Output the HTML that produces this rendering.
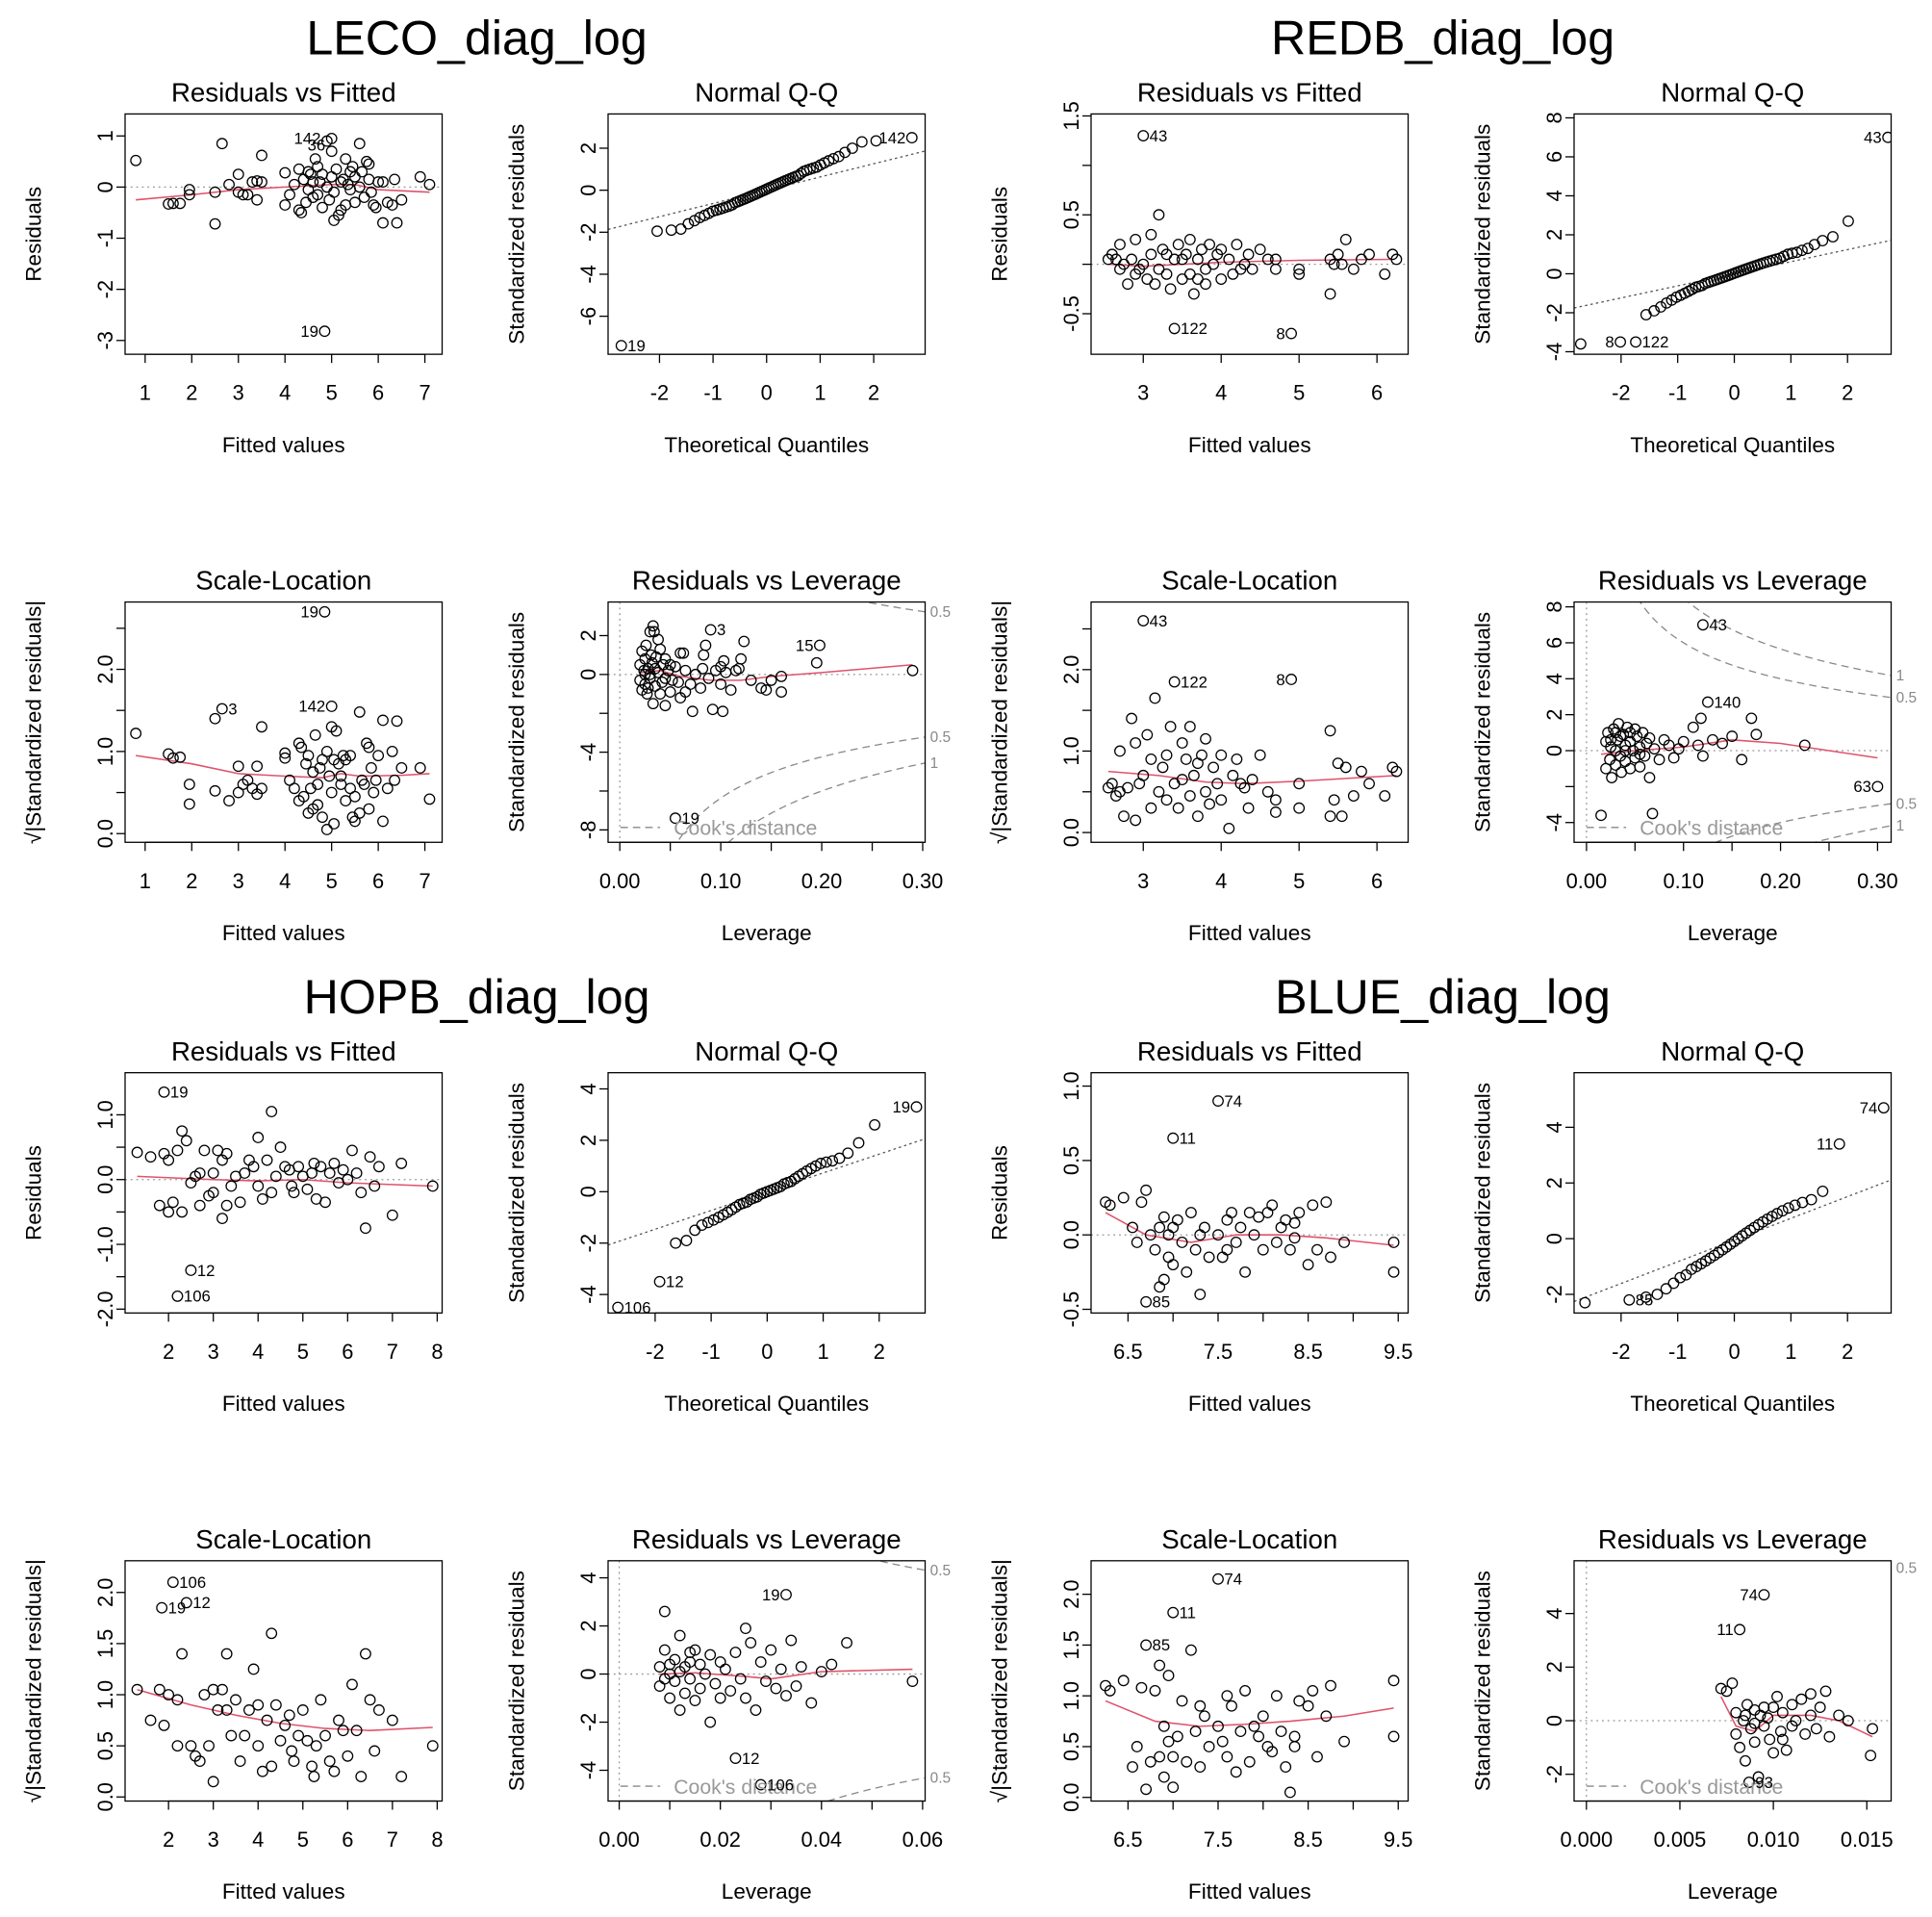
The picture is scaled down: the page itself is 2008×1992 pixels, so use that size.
<!DOCTYPE html>
<html><head><meta charset="utf-8"><title>diag_log</title>
<style>html,body{margin:0;padding:0;background:#fff}svg{display:block}text{font-family:"Liberation Sans",Arial,sans-serif}</style>
</head><body>
<svg id="chart" xmlns="http://www.w3.org/2000/svg" width="2008" height="1992" viewBox="0 0 1560 1547.6" preserveAspectRatio="none"></svg>
<script>
// ---------------- DATA ----------------
const blockTitles = ["LECO_diag_log","REDB_diag_log","HOPB_diag_log","BLUE_diag_log"];

const lecoRvfPts = [[0.8,0.52],[1.5,-0.33],[1.6,-0.32],[1.75,-0.32],[1.95,-0.05],[1.95,-0.15],[2.5,-0.72],[2.5,-0.1],[2.65,0.85],[2.8,0.05],[3.0,0.25],[3.0,-0.1],[3.1,-0.15],[3.2,-0.15],[3.3,0.1],[3.4,0.12],[3.4,-0.25],[3.5,0.62],[3.5,0.1],[4.0,0.28],[4.0,-0.35],[4.1,-0.15],[4.2,0.05],[4.3,0.35],[4.3,-0.45],[4.35,-0.5],[4.4,0.15],[4.5,0.3],[4.5,-0.05],[4.6,0.1],[4.6,-0.2],[4.65,0.55],[4.7,0.4],[4.7,-0.15],[4.8,0.25],[4.8,-0.4],[4.85,-2.82],[4.9,0.0],[4.9,0.9],[5.0,0.95],[5.0,0.7],[5.0,0.2],[5.05,-0.1],[5.05,-0.65],[5.1,0.35],[5.15,-0.55],[5.2,0.1],[5.2,-0.45],[5.3,0.55],[5.3,-0.35],[5.4,0.3],[5.4,-0.05],[5.5,-0.3],[5.5,0.2],[5.6,0.85],[5.6,0.0],[5.7,-0.2],[5.75,0.5],[5.8,0.45],[5.8,0.15],[5.85,-0.1],[5.9,-0.35],[5.95,-0.4],[6.0,0.1],[6.1,-0.7],[6.1,0.1],[6.2,-0.3],[6.3,-0.35],[6.35,0.15],[6.4,-0.7],[6.5,-0.25],[6.9,0.2],[7.1,0.05],[4.55,0.25],[4.75,0.1],[5.25,0.15],[5.35,0.05],[5.65,0.3],[4.45,-0.3],[4.95,-0.25],[5.45,0.4]];
const lecoRvfRed = [[0.8,-0.25],[2,-0.15],[3,-0.05],[4,0.0],[5,0.05],[5.5,0.05],[6,-0.05],[7.1,-0.1]];
const lecoRvfLab = [[4.9,0.95,"142","l"],[5.0,0.82,"36","l"],[4.85,-2.82,"19","l"]];
const lecoQqRes = [-7.4,-1.95,-1.9,-1.85,-1.6,-1.45,-1.3,-1.2,-1.1,-1.0,-0.95,-0.9,-0.85,-0.8,-0.75,-0.7,-0.6,-0.55,-0.5,-0.45,-0.4,-0.35,-0.3,-0.25,-0.2,-0.15,-0.1,-0.05,0.0,0.05,0.1,0.15,0.2,0.25,0.3,0.35,0.4,0.45,0.5,0.55,0.6,0.65,0.7,0.8,0.9,0.95,1.0,1.05,1.1,1.2,1.3,1.4,1.5,1.6,1.8,2.0,2.3,2.35,2.5];
const lecoQqLab = [[0,"19","r"],[58,"142","l"]];
const lecoSlPts = [[0.8,1.22],[1.5,0.97],[1.6,0.92],[1.75,0.93],[1.95,0.6],[1.95,0.36],[2.5,1.4],[2.5,0.52],[2.65,1.52],[2.8,0.4],[3.0,0.82],[3.0,0.5],[3.1,0.6],[3.2,0.65],[3.3,0.55],[3.4,0.48],[3.4,0.82],[3.5,1.3],[3.5,0.55],[4.0,0.98],[4.0,0.92],[4.1,0.65],[4.2,0.55],[4.3,1.1],[4.3,0.4],[4.35,1.05],[4.4,0.45],[4.5,0.95],[4.5,0.25],[4.6,0.3],[4.6,0.75],[4.65,1.2],[4.7,0.6],[4.7,0.35],[4.8,0.2],[4.8,0.9],[4.85,2.7],[4.9,0.05],[4.9,1.0],[5.0,1.55],[5.0,1.3],[5.0,0.5],[5.05,0.12],[5.05,0.9],[5.1,1.25],[5.15,0.85],[5.2,0.6],[5.2,0.7],[5.3,0.4],[5.3,0.9],[5.4,0.95],[5.4,0.55],[5.5,0.15],[5.5,0.45],[5.6,1.48],[5.6,0.25],[5.7,0.6],[5.75,1.1],[5.8,1.05],[5.8,0.3],[5.85,0.8],[5.9,0.5],[5.95,0.65],[6.0,0.95],[6.1,1.38],[6.1,0.15],[6.2,0.55],[6.3,1.0],[6.35,0.65],[6.4,1.37],[6.5,0.8],[6.9,0.8],[7.1,0.42],[4.55,0.55],[4.75,0.8],[5.25,0.95],[5.45,0.2],[5.65,0.65],[4.45,0.85],[4.95,0.7]];
const lecoSlRed = [[0.8,0.95],[2,0.85],[3,0.73],[4,0.7],[4.8,0.68],[5.2,0.73],[5.6,0.7],[6.5,0.71],[7.1,0.73]];
const lecoSlLab = [[4.85,2.7,"19","l"],[2.65,1.52,"3","r"],[5.0,1.55,"142","l"]];
const lecoRvlPts = [[0.02,0.5],[0.02,-0.3],[0.022,1.2],[0.022,-0.8],[0.024,0.2],[0.025,0.8],[0.025,-0.5],[0.026,1.5],[0.027,-1.0],[0.028,0.3],[0.03,2.2],[0.03,-0.2],[0.031,1.0],[0.032,0.6],[0.033,2.5],[0.033,-1.5],[0.034,2.2],[0.035,-0.6],[0.036,0.9],[0.038,1.8],[0.038,0.1],[0.04,-1.0],[0.04,1.3],[0.042,-0.4],[0.043,0.5],[0.045,-1.6],[0.045,0.8],[0.048,0.2],[0.05,-0.9],[0.05,0.5],[0.052,-0.3],[0.055,-7.4],[0.055,0.4],[0.058,-0.4],[0.06,-1.2],[0.06,1.1],[0.063,1.1],[0.065,-0.9],[0.065,0.2],[0.07,-0.5],[0.072,-1.9],[0.075,0.0],[0.08,-0.7],[0.082,0.3],[0.083,1.0],[0.085,1.5],[0.088,-0.2],[0.09,2.3],[0.092,-1.8],[0.095,0.2],[0.1,0.4],[0.1,-0.5],[0.102,-1.9],[0.103,0.7],[0.105,0.1],[0.11,-0.8],[0.115,0.2],[0.118,0.3],[0.12,0.8],[0.123,1.7],[0.13,-0.3],[0.14,-0.7],[0.145,-0.8],[0.15,-0.3],[0.16,-0.9],[0.16,-0.1],[0.195,0.6],[0.198,1.5],[0.29,0.2],[0.025,0.0],[0.028,-0.7],[0.035,0.3],[0.045,-0.2],[0.03,0.0]];
const lecoRvlRed = [[0.02,0.1],[0.04,0.2],[0.06,-0.1],[0.09,-0.3],[0.12,-0.3],[0.15,-0.1],[0.2,0.1],[0.29,0.5]];
const lecoRvlLab = [[0.09,2.3,"3","r"],[0.198,1.5,"15","l"],[0.055,-7.4,"19","r"]];

const redbRvfPts = [[2.55,0.05],[2.6,0.1],[2.7,0.2],[2.7,-0.05],[2.75,0.0],[2.8,-0.2],[2.85,0.05],[2.9,0.25],[2.9,-0.1],[3.0,1.3],[3.0,0.0],[3.05,-0.15],[3.1,0.3],[3.1,0.1],[3.15,-0.2],[3.2,0.5],[3.2,-0.05],[3.25,0.15],[3.3,-0.1],[3.35,-0.25],[3.4,-0.65],[3.4,0.05],[3.45,0.2],[3.5,-0.15],[3.55,0.1],[3.6,0.25],[3.6,-0.1],[3.65,-0.3],[3.7,0.05],[3.75,0.15],[3.8,-0.05],[3.8,-0.2],[3.85,0.2],[3.9,0.0],[3.95,0.1],[4.0,-0.15],[4.0,0.15],[4.1,0.05],[4.15,-0.1],[4.2,0.2],[4.3,0.0],[4.35,0.1],[4.4,-0.05],[4.5,0.15],[4.6,0.05],[4.7,-0.05],[4.7,0.05],[4.9,-0.7],[5.0,-0.05],[5.0,-0.1],[5.4,0.05],[5.4,-0.3],[5.45,0.0],[5.5,0.1],[5.6,0.25],[5.7,-0.05],[5.8,0.05],[5.9,0.1],[6.1,-0.1],[6.2,0.1],[6.25,0.05],[2.65,0.05],[2.95,-0.05],[3.3,0.1],[3.5,0.05],[3.7,-0.15],[4.25,-0.05],[5.55,0.0]];
const redbRvfRed = [[2.55,0.0],[3,-0.02],[3.5,0.0],[4,0.02],[5,0.04],[6.2,0.05]];
const redbRvfLab = [[3.0,1.3,"43","r"],[3.4,-0.65,"122","r"],[4.9,-0.7,"8","l"]];
const redbQqRes = [-3.6,-3.5,-3.5,-2.1,-1.9,-1.7,-1.5,-1.35,-1.2,-1.1,-1.0,-0.9,-0.8,-0.7,-0.65,-0.6,-0.5,-0.45,-0.4,-0.35,-0.3,-0.25,-0.2,-0.15,-0.1,-0.05,0,0.05,0.1,0.15,0.2,0.25,0.3,0.35,0.4,0.45,0.5,0.55,0.6,0.65,0.7,0.75,0.8,0.9,1.0,1.05,1.1,1.2,1.3,1.5,1.7,1.9,2.7,7.0];
const redbQqLab = [[53,"43","l"],[1,"8","l"],[2,"122","r"]];
const redbSlPts = [[2.55,0.55],[2.6,0.6],[2.7,0.5],[2.7,1.0],[2.75,0.2],[2.8,0.55],[2.85,1.4],[2.9,0.15],[2.9,1.1],[3.0,2.6],[3.0,0.7],[3.05,1.2],[3.1,0.3],[3.1,0.9],[3.15,1.65],[3.2,0.5],[3.25,0.8],[3.3,0.4],[3.35,1.3],[3.4,1.85],[3.4,0.6],[3.45,0.3],[3.5,1.1],[3.55,0.9],[3.6,0.45],[3.6,1.3],[3.65,0.7],[3.7,0.2],[3.75,0.95],[3.8,0.5],[3.8,1.15],[3.85,0.35],[3.9,0.8],[3.95,0.6],[4.0,0.95],[4.0,0.4],[4.1,0.05],[4.15,0.7],[4.2,0.9],[4.3,0.55],[4.35,0.3],[4.4,0.65],[4.5,0.95],[4.6,0.5],[4.7,0.4],[4.7,0.25],[4.9,1.88],[5.0,0.6],[5.0,0.3],[5.4,1.25],[5.4,0.2],[5.45,0.4],[5.5,0.85],[5.6,0.8],[5.7,0.45],[5.8,0.75],[5.9,0.6],[6.1,0.45],[6.2,0.8],[6.25,0.75],[2.65,0.45],[2.95,0.6],[3.3,0.95],[3.5,0.65],[3.7,0.85],[4.25,0.6],[5.55,0.2]];
const redbSlRed = [[2.55,0.75],[3.2,0.7],[3.8,0.62],[4.3,0.6],[5,0.63],[6.25,0.7]];
const redbSlLab = [[3.0,2.6,"43","r"],[3.4,1.85,"122","r"],[4.9,1.88,"8","l"]];
const redbRvlPts = [[0.015,-3.6],[0.02,0.5],[0.02,-1.0],[0.022,1.0],[0.024,-0.5],[0.025,0.2],[0.026,-1.5],[0.028,1.2],[0.03,0.0],[0.03,-0.8],[0.032,0.6],[0.033,1.5],[0.035,-0.3],[0.036,-1.2],[0.038,0.9],[0.04,0.3],[0.04,-0.6],[0.042,1.3],[0.045,-1.0],[0.045,0.5],[0.048,0.0],[0.05,1.2],[0.05,-0.4],[0.052,0.8],[0.055,-0.9],[0.055,0.2],[0.058,1.0],[0.06,-0.3],[0.062,0.4],[0.065,-1.5],[0.065,0.7],[0.068,-3.5],[0.07,0.1],[0.075,-0.5],[0.08,0.6],[0.085,0.3],[0.09,-0.4],[0.095,0.1],[0.1,0.5],[0.11,1.3],[0.115,0.3],[0.118,1.8],[0.12,-0.3],[0.125,2.7],[0.13,0.6],[0.14,0.4],[0.15,0.8],[0.16,-0.5],[0.17,1.8],[0.175,0.9],[0.225,0.3],[0.3,-2.0],[0.12,7.0],[0.025,0.6],[0.035,0.8],[0.045,1.0],[0.055,-0.2],[0.03,1.0],[0.04,0.0]];
const redbRvlRed = [[0.015,-0.2],[0.05,0.0],[0.1,0.2],[0.15,0.6],[0.2,0.4],[0.3,-0.4]];
const redbRvlLab = [[0.12,7.0,"43","r"],[0.125,2.7,"140","r"],[0.3,-2.0,"63","l"]];

const hopbRvfPts = [[1.3,0.42],[1.6,0.35],[1.8,-0.4],[1.9,0.4],[1.9,1.35],[2.0,0.3],[2.0,-0.5],[2.1,-0.35],[2.2,0.45],[2.2,-1.8],[2.3,-0.5],[2.3,0.75],[2.4,0.6],[2.5,-1.4],[2.5,-0.05],[2.6,0.05],[2.7,0.1],[2.7,-0.4],[2.8,0.45],[2.9,-0.25],[3.0,0.1],[3.0,-0.2],[3.1,0.45],[3.2,-0.6],[3.2,0.3],[3.3,0.4],[3.3,-0.4],[3.4,-0.1],[3.5,0.05],[3.6,-0.35],[3.8,0.3],[3.9,0.2],[4.0,-0.1],[4.0,0.65],[4.1,-0.3],[4.2,0.3],[4.3,1.05],[4.3,-0.2],[4.4,0.05],[4.5,0.5],[4.6,0.2],[4.7,0.15],[4.8,-0.2],[4.9,0.2],[5.0,0.05],[5.1,-0.15],[5.2,0.1],[5.3,-0.3],[5.4,0.2],[5.5,-0.35],[5.6,0.1],[5.7,0.25],[5.8,-0.05],[6.0,0.0],[6.1,0.45],[6.2,0.1],[6.3,-0.2],[6.4,-0.75],[6.5,0.35],[6.6,-0.1],[6.7,0.2],[7.0,-0.55],[7.2,0.25],[7.9,-0.1],[5.9,0.15],[5.25,0.25],[4.75,-0.1],[3.7,0.1]];
const hopbRvfRed = [[1.3,0.05],[3,0.0],[4,-0.02],[5,0.0],[6,-0.05],[7.9,-0.1]];
const hopbRvfLab = [[1.9,1.35,"19","r"],[2.5,-1.4,"12","r"],[2.2,-1.8,"106","r"]];
const hopbQqRes = [-4.5,-3.5,-2.0,-1.9,-1.5,-1.3,-1.2,-1.1,-1.0,-0.9,-0.8,-0.7,-0.6,-0.5,-0.45,-0.4,-0.3,-0.25,-0.2,-0.1,-0.05,0,0.05,0.1,0.15,0.2,0.3,0.35,0.4,0.5,0.6,0.7,0.8,0.9,1.0,1.1,1.15,1.2,1.3,1.5,1.9,2.6,3.3];
const hopbQqLab = [[0,"106","r"],[1,"12","r"],[42,"19","l"]];
const hopbSlPts = [[1.3,1.05],[1.6,0.75],[1.8,1.05],[1.85,1.85],[1.9,0.7],[2.0,1.0],[2.1,2.1],[2.2,0.95],[2.3,1.4],[2.4,1.9],[2.5,0.5],[2.6,0.4],[2.7,0.35],[2.8,1.0],[2.9,0.5],[3.0,0.15],[3.0,1.05],[3.1,0.85],[3.2,1.05],[3.3,1.4],[3.3,0.85],[3.4,0.6],[3.5,0.95],[3.6,0.35],[3.8,0.85],[3.9,1.25],[4.0,0.5],[4.0,0.9],[4.1,0.25],[4.2,0.75],[4.3,1.6],[4.3,0.3],[4.4,0.9],[4.5,0.55],[4.6,0.7],[4.7,0.8],[4.8,0.35],[4.9,0.6],[5.0,0.85],[5.1,0.55],[5.2,0.3],[5.3,0.5],[5.4,0.95],[5.5,0.6],[5.6,0.35],[5.7,0.25],[5.8,0.75],[6.0,0.4],[6.1,1.1],[6.2,0.65],[6.3,0.2],[6.4,1.4],[6.5,0.95],[6.6,0.45],[6.7,0.85],[7.0,0.75],[7.2,0.2],[7.9,0.5],[5.9,0.65],[5.25,0.2],[4.75,0.45],[3.7,0.6],[2.2,0.5]];
const hopbSlRed = [[1.3,1.05],[2.5,0.9],[3.5,0.8],[4.5,0.72],[5.5,0.67],[6.5,0.65],[7.9,0.68]];
const hopbSlLab = [[2.1,2.1,"106","r"],[1.85,1.85,"19","r"],[2.4,1.9,"12","r"]];
const hopbRvlPts = [[0.008,0.3],[0.008,-0.5],[0.009,2.6],[0.009,1.0],[0.01,0.0],[0.01,-1.0],[0.011,0.6],[0.011,-0.3],[0.012,1.6],[0.012,-1.5],[0.013,0.3],[0.013,-0.8],[0.014,0.9],[0.014,-0.2],[0.015,1.0],[0.015,-1.1],[0.016,0.4],[0.016,-0.6],[0.017,0.0],[0.018,-2.0],[0.018,0.8],[0.019,-0.4],[0.02,0.5],[0.02,-1.0],[0.021,0.2],[0.022,-0.7],[0.023,-3.5],[0.023,0.9],[0.024,-0.2],[0.025,1.9],[0.025,-1.0],[0.026,1.3],[0.027,-1.5],[0.028,-4.6],[0.028,0.5],[0.029,-0.3],[0.03,1.0],[0.031,-0.6],[0.032,0.2],[0.033,3.3],[0.033,-0.9],[0.034,1.4],[0.035,-0.5],[0.036,0.3],[0.038,-1.2],[0.04,0.1],[0.042,0.4],[0.045,1.3],[0.058,-0.3],[0.01,0.4],[0.012,0.1],[0.014,0.5],[0.009,-0.2]];
const hopbRvlRed = [[0.008,0.0],[0.015,0.05],[0.025,-0.1],[0.03,-0.2],[0.04,0.1],[0.058,0.2]];
const hopbRvlLab = [[0.033,3.3,"19","l"],[0.023,-3.5,"12","r"],[0.028,-4.6,"106","r"]];

const blueRvfPts = [[6.25,0.22],[6.3,0.2],[6.45,0.25],[6.55,0.05],[6.6,-0.05],[6.65,0.22],[6.7,0.3],[6.7,-0.45],[6.75,0.0],[6.8,-0.1],[6.85,-0.35],[6.85,0.05],[6.9,0.12],[6.9,-0.3],[6.95,0.0],[7.0,0.65],[7.0,-0.2],[7.05,0.1],[7.1,-0.05],[7.15,-0.25],[7.2,0.15],[7.25,-0.1],[7.3,-0.4],[7.35,0.05],[7.4,-0.15],[7.5,0.9],[7.5,0.0],[7.55,-0.15],[7.6,0.1],[7.65,0.15],[7.7,-0.05],[7.75,0.05],[7.8,-0.25],[7.85,0.15],[7.9,0.0],[7.95,0.12],[8.0,-0.1],[8.05,0.15],[8.1,0.2],[8.15,-0.05],[8.2,0.05],[8.25,0.1],[8.3,-0.1],[8.35,0.08],[8.4,0.15],[8.5,-0.2],[8.55,0.2],[8.6,-0.1],[8.7,0.22],[8.75,-0.15],[8.9,-0.05],[9.45,-0.05],[9.45,-0.25],[7.0,0.05],[7.3,0.0],[7.6,-0.1],[8.35,-0.02],[6.95,-0.15]];
const blueRvfRed = [[6.25,0.15],[6.7,0.0],[7.2,-0.05],[7.7,0.0],[8.2,0.0],[8.7,-0.02],[9.45,-0.07]];
const blueRvfLab = [[7.5,0.9,"74","r"],[7.0,0.65,"11","r"],[6.7,-0.45,"85","r"]];
const blueQqRes = [-2.3,-2.2,-2.1,-2.0,-1.8,-1.6,-1.4,-1.3,-1.1,-1.0,-0.9,-0.8,-0.7,-0.6,-0.5,-0.4,-0.3,-0.2,-0.1,0,0.1,0.2,0.3,0.4,0.5,0.6,0.7,0.8,0.9,1.0,1.1,1.2,1.3,1.4,1.7,3.4,4.7];
const blueQqLab = [[36,"74","l"],[35,"11","l"],[1,"85","r"]];
const blueSlPts = [[6.25,1.1],[6.3,1.05],[6.45,1.15],[6.55,0.3],[6.6,0.5],[6.65,1.08],[6.7,1.5],[6.7,0.08],[6.75,0.35],[6.8,1.05],[6.85,1.3],[6.85,0.4],[6.9,0.7],[6.9,0.2],[6.95,1.2],[7.0,1.82],[7.0,0.1],[7.05,0.6],[7.1,0.95],[7.15,0.35],[7.2,1.45],[7.25,0.65],[7.3,0.3],[7.35,0.8],[7.4,0.5],[7.5,2.15],[7.5,0.7],[7.55,0.55],[7.6,0.4],[7.65,0.9],[7.7,0.25],[7.75,0.65],[7.8,1.05],[7.85,0.35],[7.9,0.7],[7.95,0.6],[8.0,0.8],[8.05,0.5],[8.1,0.45],[8.15,1.0],[8.2,0.65],[8.25,0.3],[8.3,0.05],[8.35,0.6],[8.4,0.95],[8.5,0.9],[8.55,1.05],[8.6,0.4],[8.7,0.8],[8.75,1.1],[8.9,0.55],[9.45,0.6],[9.45,1.15],[7.0,0.4],[7.3,0.9],[7.6,1.0],[8.35,0.5],[6.95,0.55]];
const blueSlRed = [[6.25,0.95],[6.8,0.75],[7.3,0.7],[7.8,0.72],[8.3,0.75],[8.9,0.8],[9.45,0.88]];
const blueSlLab = [[7.5,2.15,"74","r"],[7.0,1.82,"11","r"],[6.7,1.5,"85","r"]];
const blueRvlPts = [[0.0072,1.2],[0.0075,1.1],[0.0078,1.4],[0.008,0.3],[0.008,-0.5],[0.0082,3.4],[0.0082,-1.0],[0.0084,0.0],[0.0085,-1.5],[0.0086,0.6],[0.0087,-2.3],[0.0088,-0.3],[0.009,0.4],[0.009,-0.8],[0.0092,-2.1],[0.0093,0.2],[0.0095,4.7],[0.0095,-0.2],[0.0097,0.1],[0.0098,-0.7],[0.01,0.5],[0.01,-1.2],[0.0102,0.9],[0.0104,-0.4],[0.0105,0.3],[0.0107,-1.1],[0.011,0.6],[0.011,-0.2],[0.0112,0.0],[0.0115,0.8],[0.0117,-0.5],[0.012,1.0],[0.012,0.2],[0.0123,-0.3],[0.0125,0.5],[0.0128,1.1],[0.013,-0.6],[0.0135,0.2],[0.014,0.0],[0.0153,-0.3],[0.0152,-1.3],[0.0085,0.2],[0.009,-0.1],[0.0095,0.5],[0.0105,-0.7]];
const blueRvlRed = [[0.0072,0.9],[0.008,-0.2],[0.009,-0.4],[0.01,0.2],[0.012,0.2],[0.0135,0.0],[0.0153,-0.6]];
const blueRvlLab = [[0.0095,4.7,"74","l"],[0.0082,3.4,"11","l"],[0.0087,-2.3,"93","r"]];

// ---------------- DRAWING ----------------
const NS = "http://www.w3.org/2000/svg";
const svg = document.getElementById("chart");
function el(tag, attrs, parent, txt){
  const e = document.createElementNS(NS, tag);
  for (const k in attrs) e.setAttribute(k, attrs[k]);
  if (txt !== undefined) e.textContent = txt;
  (parent || svg).appendChild(e);
  return e;
}
function qnorm(p){
  const a=[-39.6968302866538,220.946098424521,-275.928510446969,138.357751867269,-30.6647980661472,2.50662827745924];
  const b=[-54.4760987982241,161.585836858041,-155.698979859887,66.8013118877197,-13.2806815528857];
  const c=[-0.00778489400243029,-0.322396458041136,-2.40075827716184,-2.54973253934373,4.37466414146497,2.93816398269878];
  const d=[0.00778469570904146,0.32246712907004,2.445134137143,3.75440866190742];
  let q,r;
  if(p<0.02425){q=Math.sqrt(-2*Math.log(p));return (((((c[0]*q+c[1])*q+c[2])*q+c[3])*q+c[4])*q+c[5])/((((d[0]*q+d[1])*q+d[2])*q+d[3])*q+1);}
  if(p>1-0.02425){q=Math.sqrt(-2*Math.log(1-p));return -(((((c[0]*q+c[1])*q+c[2])*q+c[3])*q+c[4])*q+c[5])/((((d[0]*q+d[1])*q+d[2])*q+d[3])*q+1);}
  q=p-0.5;r=q*q;
  return (((((a[0]*r+a[1])*r+a[2])*r+a[3])*r+a[4])*r+a[5])*q/(((((b[0]*r+b[1])*r+b[2])*r+b[3])*r+b[4])*r+1);
}
const BW = 256, BH = 194;
const FS_TITLE = 21.5, FS_TICK = 17, FS_AXIS = 17.5, FS_LAB = 13;
let clipId = 0;
function panel(bx, by, cfg, name){
  const g = el("g", {}, svg);
  
  
  const sx = v => bx + (v - cfg.xlim[0]) / (cfg.xlim[1] - cfg.xlim[0]) * BW;
  const sy = v => by + BH - (v - cfg.ylim[0]) / (cfg.ylim[1] - cfg.ylim[0]) * BH;
  const cid = "clip" + (clipId++);
  const cp = el("clipPath", {id: cid}, g);
  el("rect", {x: bx, y: by, width: BW, height: BH}, cp);
  const inner = el("g", {"clip-path": "url(#" + cid + ")"}, g);
  const t = el("text", {x: bx + BW/2, y: by - 10, "font-size": FS_TITLE, "text-anchor": "middle"}, g, cfg.title);
  
  
  cfg.xticks.forEach((v, i) => {
    const x = sx(v);
    el("line", {x1: x, x2: x, y1: by + BH, y2: by + BH + 7, stroke: "#000", "stroke-width": 1}, g);
    if (cfg.xlabels[i]) {
      const tl = el("text", {x: x, y: by + BH + 37, "font-size": FS_TICK, "text-anchor": "middle"}, g, cfg.xlabels[i]);
      
      
    }
  });
  el("line", {x1: sx(cfg.xticks[0]), x2: sx(cfg.xticks[cfg.xticks.length-1]), y1: by+BH, y2: by+BH, stroke: "#000"}, g);
  cfg.yticks.forEach((v, i) => {
    const y = sy(v);
    el("line", {x1: bx - 7, x2: bx, y1: y, y2: y, stroke: "#000", "stroke-width": 1}, g);
    if (cfg.ylabels[i]) {
      const tl = el("text", {x: 0, y: 0, "font-size": FS_TICK, "text-anchor": "middle", transform: "translate(" + (bx - 10) + "," + y + ") rotate(-90)"}, g, cfg.ylabels[i]);
      
      
    }
  });
  const xl = el("text", {x: bx + BW/2, y: by + BH + 79, "font-size": FS_AXIS, "text-anchor": "middle"}, g, cfg.xlab);
  
  
  const yl = el("text", {x: 0, y: 0, "font-size": FS_AXIS, "text-anchor": "middle", transform: "translate(" + (bx - 68) + "," + (by + BH/2) + ") rotate(-90)"}, g, cfg.ylab);
  
  
  if (cfg.hline !== undefined) el("line", {x1: bx, x2: bx + BW, y1: sy(cfg.hline), y2: sy(cfg.hline), stroke: "#999", "stroke-dasharray": "1.5,3", "stroke-width": 1}, inner);
  if (cfg.vline !== undefined) el("line", {x1: sx(cfg.vline), x2: sx(cfg.vline), y1: by, y2: by + BH, stroke: "#999", "stroke-dasharray": "1.5,3", "stroke-width": 1}, inner);
  if (cfg.qqline) el("line", {x1: bx, x2: bx + BW, y1: sy(cfg.qqline[0] + cfg.qqline[1]*cfg.xlim[0]), y2: sy(cfg.qqline[0] + cfg.qqline[1]*cfg.xlim[1]), stroke: "#555", "stroke-dasharray": "2,2.5", "stroke-width": 1}, inner);
  if (cfg.cookP) {
    [0.5, 1].forEach(c => {
      [1, -1].forEach(sgn => {
        let d = "";
        for (let k = 1; k <= 120; k++) {
          const h = cfg.xlim[1] * k / 120;
          const v = sgn * Math.sqrt(c * cfg.cookP * (1 - h) / h);
          d += (k === 1 ? "M" : "L") + sx(h).toFixed(2) + "," + Math.max(by - 50, Math.min(by + BH + 50, sy(v))).toFixed(2);
        }
        const cl = el("path", {d: d, fill: "none", stroke: "#888", "stroke-dasharray": "6,4", "stroke-width": 1}, inner);
        
        
        const hv = cfg.xlim[1];
        const ve = sgn * Math.sqrt(c * cfg.cookP * (1 - hv) / hv);
        if (ve < cfg.ylim[1] + 0.3 && ve > cfg.ylim[0]) {
          el("text", {x: bx + BW + 4, y: Math.max(by + 6, sy(ve)) + 4, "font-size": 12, fill: "#888"}, g, String(c));
        }
      });
    });
    const ly = by + BH - 12;
    el("line", {x1: bx + 10, x2: bx + 42, y1: ly, y2: ly, stroke: "#888", "stroke-dasharray": "6,4"}, g);
    const lt = el("text", {x: bx + 53, y: ly + 6, "font-size": 16.5, fill: "#999"}, g, "Cook's distance");
    
    
  }
  if (cfg.red) {
    const rl = el("polyline", {points: cfg.red.map(p => sx(p[0]).toFixed(2) + "," + sy(p[1]).toFixed(2)).join(" "), fill: "none", stroke: "#df536b", "stroke-width": 1.2}, inner);
    
    
  }
  cfg.pts.forEach(p => {
    const c = el("circle", {cx: sx(p[0]).toFixed(2), cy: sy(p[1]).toFixed(2), r: 4.1, fill: "none", stroke: "#000", "stroke-width": 1}, inner);
    
    
  });
  (cfg.labs || []).forEach(l => {
    const x = sx(l[0]), y = sy(l[1]);
    el("text", {x: l[3] === "r" ? x + 5 : x - 5, y: y + 4.5, "font-size": FS_LAB, "text-anchor": l[3] === "r" ? "start" : "end"}, g, l[2]);
  });
  el("rect", {x: bx, y: by, width: BW, height: BH, fill: "none", stroke: "#000", "stroke-width": 1}, g);
}
// QQ: the listed residuals are a subsample of a larger sample of size nTotal,
// so theoretical quantiles are spread over the full sample's plotting positions.
function qqPts(res, nTotal){
  const n = res.length;
  return res.map((v, i) => [qnorm((0.5 + i * (nTotal - 1) / (n - 1)) / nTotal), v]);
}
function qqLabs(res, nTotal, labs){ const pts = qqPts(res, nTotal); return labs.map(l => [pts[l[0]][0], pts[l[0]][1], l[1], l[2]]); }
function seq(a, b, s){ const r = []; for (let v = a; v <= b + 1e-9; v += s) r.push(+v.toFixed(6)); return r; }

const offs = [[0,0],[780,0],[0,774],[780,774]];
offs.forEach((o, i) => {
  const t = el("text", {x: o[0] + 385, y: o[1] + 44, "font-size": 39, "text-anchor": "middle"}, svg, blockTitles[i]);
  
  
});
const P = [[101,92],[491,92],[101,486],[491,486]];
const ylabRes = "Residuals", ylabStd = "Standardized residuals", ylabSl = "\u221A|Standardized residuals|";
function blockPanels(o, key, c){
  panel(o[0]+P[0][0], o[1]+P[0][1], c.rvf, key + "-residuals-vs-fitted");
  panel(o[0]+P[1][0], o[1]+P[1][1], c.qq, key + "-normal-qq");
  panel(o[0]+P[2][0], o[1]+P[2][1], c.sl, key + "-scale-location");
  panel(o[0]+P[3][0], o[1]+P[3][1], c.rvl, key + "-residuals-vs-leverage");
}
blockPanels(offs[0], "leco", {
  rvf: {title:"Residuals vs Fitted", xlab:"Fitted values", ylab:ylabRes, xlim:[0.57,7.37], ylim:[-3.27,1.43], xticks:[1,2,3,4,5,6,7], xlabels:["1","2","3","4","5","6","7"], yticks:[-3,-2,-1,0,1], ylabels:["-3","-2","-1","0","1"], pts:lecoRvfPts, red:lecoRvfRed, labs:lecoRvfLab, hline:0},
  qq: {title:"Normal Q-Q", xlab:"Theoretical Quantiles", ylab:ylabStd, xlim:[-2.96,2.96], ylim:[-7.81,3.63], xticks:[-2,-1,0,1,2], xlabels:["-2","-1","0","1","2"], yticks:[-6,-4,-2,0,2], ylabels:["-6","-4","-2","0","2"], pts:qqPts(lecoQqRes,150), labs:qqLabs(lecoQqRes,150,lecoQqLab), qqline:[0,0.63]},
  sl: {title:"Scale-Location", xlab:"Fitted values", ylab:ylabSl, xlim:[0.57,7.37], ylim:[-0.106,2.82], xticks:[1,2,3,4,5,6,7], xlabels:["1","2","3","4","5","6","7"], yticks:[0,0.5,1,1.5,2,2.5], ylabels:["0.0","","1.0","","2.0",""], pts:lecoSlPts, red:lecoSlRed, labs:lecoSlLab},
  rvl: {title:"Residuals vs Leverage", xlab:"Leverage", ylab:ylabStd, xlim:[-0.0116,0.3024], ylim:[-8.64,3.73], xticks:seq(0,0.3,0.05), xlabels:["0.00","","0.10","","0.20","","0.30"], yticks:[-8,-6,-4,-2,0,2], ylabels:["-8","","-4","","0","2"], pts:lecoRvlPts, red:lecoRvlRed, labs:lecoRvlLab, hline:0, vline:0, cookP:9}
});
blockPanels(offs[1], "redb", {
  rvf: {title:"Residuals vs Fitted", xlab:"Fitted values", ylab:ylabRes, xlim:[2.33,6.40], ylim:[-0.91,1.52], xticks:[3,4,5,6], xlabels:["3","4","5","6"], yticks:[-0.5,0,0.5,1,1.5], ylabels:["-0.5","","0.5","","1.5"], pts:redbRvfPts, red:redbRvfRed, labs:redbRvfLab, hline:0},
  qq: {title:"Normal Q-Q", xlab:"Theoretical Quantiles", ylab:ylabStd, xlim:[-2.83,2.77], ylim:[-4.13,8.2], xticks:[-2,-1,0,1,2], xlabels:["-2","-1","0","1","2"], yticks:[-4,-2,0,2,4,6,8], ylabels:["-4","-2","0","2","4","6","8"], pts:qqPts(redbQqRes,150), labs:qqLabs(redbQqRes,150,redbQqLab), qqline:[0,0.62]},
  sl: {title:"Scale-Location", xlab:"Fitted values", ylab:ylabSl, xlim:[2.33,6.40], ylim:[-0.12,2.83], xticks:[3,4,5,6], xlabels:["3","4","5","6"], yticks:[0,0.5,1,1.5,2,2.5], ylabels:["0.0","","1.0","","2.0",""], pts:redbSlPts, red:redbSlRed, labs:redbSlLab},
  rvl: {title:"Residuals vs Leverage", xlab:"Leverage", ylab:ylabStd, xlim:[-0.0128,0.314], ylim:[-5.1,8.27], xticks:seq(0,0.3,0.05), xlabels:["0.00","","0.10","","0.20","","0.30"], yticks:[-4,-2,0,2,4,6,8], ylabels:["-4","","0","2","4","6","8"], pts:redbRvlPts, red:redbRvlRed, labs:redbRvlLab, hline:0, vline:0, cookP:8}
});
blockPanels(offs[2], "hopb", {
  rvf: {title:"Residuals vs Fitted", xlab:"Fitted values", ylab:ylabRes, xlim:[1.03,8.11], ylim:[-2.06,1.65], xticks:[2,3,4,5,6,7,8], xlabels:["2","3","4","5","6","7","8"], yticks:[-2,-1.5,-1,-0.5,0,0.5,1], ylabels:["-2.0","","-1.0","","0.0","","1.0"], pts:hopbRvfPts, red:hopbRvfRed, labs:hopbRvfLab, hline:0},
  qq: {title:"Normal Q-Q", xlab:"Theoretical Quantiles", ylab:ylabStd, xlim:[-2.84,2.82], ylim:[-4.72,4.63], xticks:[-2,-1,0,1,2], xlabels:["-2","-1","0","1","2"], yticks:[-4,-2,0,2,4], ylabels:["-4","-2","0","2","4"], pts:qqPts(hopbQqRes,130), labs:qqLabs(hopbQqRes,130,hopbQqLab), qqline:[0,0.73]},
  sl: {title:"Scale-Location", xlab:"Fitted values", ylab:ylabSl, xlim:[1.03,8.11], ylim:[-0.04,2.31], xticks:[2,3,4,5,6,7,8], xlabels:["2","3","4","5","6","7","8"], yticks:[0,0.5,1,1.5,2], ylabels:["0.0","0.5","1.0","1.5","2.0"], pts:hopbSlPts, red:hopbSlRed, labs:hopbSlLab},
  rvl: {title:"Residuals vs Leverage", xlab:"Leverage", ylab:ylabStd, xlim:[-0.0022,0.0605], ylim:[-5.28,4.71], xticks:seq(0,0.06,0.01), xlabels:["0.00","","0.02","","0.04","","0.06"], yticks:[-4,-2,0,2,4], ylabels:["-4","-2","0","2","4"], pts:hopbRvlPts, red:hopbRvlRed, labs:hopbRvlLab, hline:0, vline:0, cookP:2.4}
});
blockPanels(offs[3], "blue", {
  rvf: {title:"Residuals vs Fitted", xlab:"Fitted values", ylab:ylabRes, xlim:[6.09,9.61], ylim:[-0.525,1.09], xticks:[6.5,7,7.5,8,8.5,9,9.5], xlabels:["6.5","","7.5","","8.5","","9.5"], yticks:[-0.5,0,0.5,1], ylabels:["-0.5","0.0","0.5","1.0"], pts:blueRvfPts, red:blueRvfRed, labs:blueRvfLab, hline:0},
  qq: {title:"Normal Q-Q", xlab:"Theoretical Quantiles", ylab:ylabStd, xlim:[-2.83,2.77], ylim:[-2.67,5.96], xticks:[-2,-1,0,1,2], xlabels:["-2","-1","0","1","2"], yticks:[-2,0,2,4], ylabels:["-2","0","2","4"], pts:qqPts(blueQqRes,120), labs:qqLabs(blueQqRes,120,blueQqLab), qqline:[-0.05,0.78]},
  sl: {title:"Scale-Location", xlab:"Fitted values", ylab:ylabSl, xlim:[6.09,9.61], ylim:[-0.036,2.33], xticks:[6.5,7,7.5,8,8.5,9,9.5], xlabels:["6.5","","7.5","","8.5","","9.5"], yticks:[0,0.5,1,1.5,2], ylabels:["0.0","0.5","1.0","1.5","2.0"], pts:blueSlPts, red:blueSlRed, labs:blueSlLab},
  rvl: {title:"Residuals vs Leverage", xlab:"Leverage", ylab:ylabStd, xlim:[-0.00066,0.0163], ylim:[-3.0,5.97], xticks:[0,0.005,0.01,0.015], xlabels:["0.000","0.005","0.010","0.015"], yticks:[-2,0,2,4], ylabels:["-2","0","2","4"], pts:blueRvlPts, red:blueRvlRed, labs:blueRvlLab, hline:0, vline:0, cookP:1.2}
});
</script>
</body></html>
